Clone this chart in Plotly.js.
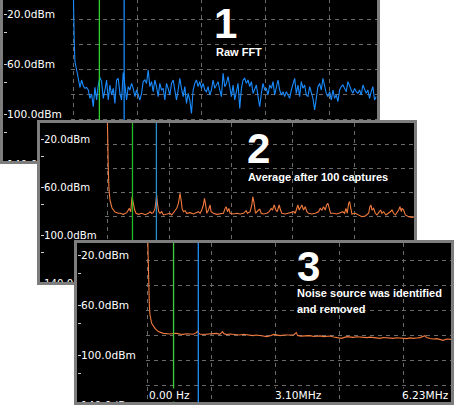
<!DOCTYPE html>
<html><head><meta charset="utf-8">
<script src="https://cdn.plot.ly/plotly-3.0.1.min.js"></script>
<style>
html,body{margin:0;padding:0;background:#ffffff;width:454px;height:405px;overflow:hidden;}
.panel{position:absolute;box-sizing:border-box;border:3px solid #7d7d7d;background:#000;overflow:hidden;}
.panel > div{position:absolute;left:0;top:0;}
</style></head><body>
<div id="p1" class="panel" style="z-index:1"><div id="g1"></div></div>
<div id="p2" class="panel" style="z-index:2"><div id="g2"></div></div>
<div id="p3" class="panel" style="z-index:3"><div id="g3"></div></div>
<script>
// ---------- axis labels ----------
const levelTicks = [-20, -60, -100, -140];
const levelTickText = ['20.0dBm', '60.0dBm', '100.0dBm', '140.0dBm'];
const minorLevelTicks = [-34.4, -74.4, -114.4, -154.4];
const freqLabelVals = [0, 3.10, 6.23];
const freqLabelText = ['0.00 Hz', '3.10MHz', '6.23MHz'];
const freqLabelAnchor = ['left', 'center', 'right'];

// ---------- marker frequencies (MHz) ----------
const markerGreen = 0.536;
const markerBlue = 1.045;

// ---------- panel 1: raw FFT (dBm) ----------
const p1HeadFreq = [0, 0.006, 0.014, 0.02, 0.034, 0.05];
const p1HeadLevel = [0, -19.5, -21, -43, -58, -63];
const p1BinStart = 0.0684, p1BinStep = 0.03421;
const p1BinLevel = [
 -64.8,-71.5,-78.7,-72.8,-77.6,-79.5,-78.7,-80.8,-87.5,-84.0,-94.1,-78.7,-88.8,-76.8,-70.7,-74.1,
 -87.5,-80.8,-72.8,-88.8,-76.8,-84.8,-79.5,-91.5,-72.8,-71.5,-83.5,-88.8,-66.9,-76.8,-88.8,-78.1,
 -80.8,-75.5,-79.5,-86.1,-80.8,-84.8,-88.8,-83.5,-74.1,-72.8,-75.5,-64.8,-78.1,-74.1,-82.1,-72.8,
 -78.1,-86.1,-75.5,-80.8,-79.5,-88.8,-75.5,-79.5,-84.8,-75.5,-72.8,-80.8,-88.8,-80.8,-71.5,-79.5,
 -86.1,-78.1,-91.5,-83.5,-88.8,-99.5,-80.8,-75.5,-72.8,-78.1,-74.1,-79.5,-75.5,-80.8,-82.1,-78.1,
 -84.8,-80.8,-72.8,-79.5,-76.8,-74.1,-80.8,-86.1,-67.5,-78.1,-75.5,
 -70.1,-78.1,-86.1,-76.8,-88.8,-82.1,-75.5,-95.5,-79.5,-72.8,-71.5,-75.5,-72.8,-78.1,-74.1,-83.5,
 -79.5,-76.8,-86.1,-94.1,-83.5,-75.5,-80.8,-79.5,-84.8,-76.8,-79.5,-74.1,-84.8,-78.1,-72.8,-80.8,
 -84.8,-82.1,-86.1,-82.1,-84.8,-87.5,-80.8,-75.5,-71.5,-83.5,-76.8,-86.1,-74.1,-79.5,-76.8,-84.8,
 -86.1,-78.1,-82.1,-87.5,-96.8,-84.8,-78.1,-75.5,-80.8,-71.5,-78.1,-83.5,-86.1,-82.1,-88.8,-80.8,
 -87.5,-84.8,-90.1,-80.8,-78.1,-76.8,-79.5,-82.1,-74.1,-78.1,-80.8,-83.5,-79.5,-82.1,-83.5,-80.8,
 -84.8,-76.8,-79.5,-83.5,-80.8,-87.5,-82.1,-78.1,-88.8,-86.1
];

// ---------- panel 2: average after 100 captures ----------
const p2Freq = [0,0.006,0.021,0.036,0.057,0.100,0.164,0.235,0.270,0.342,0.413,0.469,0.498,0.526,0.554,0.583,
 0.611,0.661,0.732,0.803,0.874,0.909,0.945,0.980,1.016,1.051,1.066,1.094,1.122,1.158,1.193,1.264,1.335,1.371,
 1.421,1.477,1.513,1.548,1.570,1.591,1.619,1.655,1.690,1.761,1.832,1.903,1.939,1.974,2.010,2.045,2.067,2.088,
 2.116,2.152,2.187,2.209,2.258,2.329,2.400,2.471,2.507,2.528,2.557,2.585,2.613,2.684,2.756,2.826,2.897,2.954,
 2.982,3.039,3.075,3.096,3.124,3.153,3.217,3.245,3.274,3.323,3.394,3.444,3.487,3.515,3.551,3.586,3.615,3.657,
 3.686,3.714,3.785,3.856,3.927,3.970,3.998,4.033,4.055,4.083,4.112,4.140,4.175,4.211,4.246,4.282,4.353,4.424,
 4.495,4.530,4.566,4.601,4.637,4.665,4.694,4.722,4.750,4.814,4.885,4.956,5.006,5.049,5.077,5.106,5.134,5.155,
 5.176,5.205,5.276,5.347,5.418,5.489,5.560,5.588,5.610,5.631,5.666,5.702,5.737,5.773,5.815,5.844,5.879,5.929,
 5.986,6.021,6.057,6.092,6.128,6.163,6.199,6.227,6.256,6.270,6.305,6.341,6.412,6.483,6.540];
const p2Level = [0,-21,-45,-62,-71,-77.5,-80.8,-81.9,-81.9,-82.8,-81.4,-77.8,-80.6,-68.1,-75.0,-79.2,
 -81.9,-82.8,-81.9,-83.1,-81.9,-80.6,-81.9,-81.4,-77.8,-66.7,-73.6,-80.6,-81.9,-80.6,-83.3,-82.8,-81.9,-83.3,
 -80.6,-77.8,-73.6,-65.3,-70.8,-77.8,-80.6,-79.7,-81.9,-81.4,-82.5,-81.4,-80.6,-81.9,-79.2,-75.0,-69.4,-73.6,
 -81.9,-79.2,-75.0,-80.6,-81.9,-82.8,-82.5,-81.9,-77.8,-76.4,-80.6,-77.8,-81.9,-82.5,-81.9,-82.5,-81.9,-79.7,
 -81.9,-80.6,-75.0,-68.1,-73.6,-81.9,-79.2,-78.6,-81.9,-82.5,-81.9,-80.6,-77.8,-79.2,-75.0,-79.2,-80.6,-75.0,
 -79.2,-81.9,-82.5,-81.9,-81.4,-80.6,-81.9,-77.8,-75.0,-79.2,-76.4,-75.0,-79.2,-76.4,-80.6,-81.9,-82.5,-81.9,
 -80.6,-77.8,-79.2,-76.4,-79.2,-75.0,-73.6,-79.2,-81.9,-81.9,-82.5,-81.4,-80.6,-81.9,-77.8,-81.9,-73.6,-72.2,
 -76.4,-82.5,-81.9,-83.3,-84.7,-84.2,-81.9,-76.4,-75.0,-79.2,-77.8,-81.9,-83.3,-81.4,-79.2,-81.9,-80.6,-83.3,
 -81.9,-80.6,-79.2,-81.9,-83.3,-81.4,-79.2,-76.4,-80.6,-77.8,-79.2,-83.3,-84.7,-85.3,-84.7];

// ---------- panel 3: noise source removed ----------
const p3Freq = [0,0.010,0.024,0.038,0.051,0.086,0.154,0.222,0.325,0.40,0.462,0.53,0.599,0.67,0.736,0.80,0.872,
 0.94,1.009,1.030,1.05,1.078,1.14,1.214,1.28,1.351,1.420,1.488,1.543,1.570,1.625,1.69,1.762,1.83,1.899,1.97,
 2.036,2.10,2.172,2.24,2.309,2.38,2.446,2.514,2.597,2.665,2.733,2.80,2.870,2.94,3.007,3.062,3.089,3.15,3.212,
 3.28,3.349,3.42,3.486,3.55,3.623,3.69,3.760,3.83,3.897,3.99,4.102,4.17,4.239,4.31,4.375,4.44,4.512,4.58,4.649,
 4.72,4.786,4.85,4.923,4.99,5.060,5.13,5.196,5.26,5.333,5.40,5.470,5.54,5.607,5.709,5.744,5.81,5.881,5.95,
 6.017,6.086,6.154,6.257];
const p3Level = [0,-21.3,-44,-60,-68,-74.7,-78.7,-81.3,-82.7,-83.0,-83.2,-82.8,-82.7,-83.3,-83.5,-83.0,-82.9,
 -83.4,-82.1,-80.8,-82.6,-83.2,-83.6,-83.5,-83.0,-83.2,-82.7,-83.5,-81.3,-82.9,-83.7,-83.2,-83.5,-84.0,-84.0,-83.4,
 -83.7,-84.1,-84.5,-84.0,-84.2,-84.8,-85.3,-84.8,-83.5,-84.3,-84.5,-84.0,-84.0,-84.6,-84.0,-82.1,-84.5,-84.9,-84.8,
 -84.3,-84.5,-85.2,-85.1,-84.7,-85.3,-85.0,-84.8,-85.6,-85.9,-86.7,-85.3,-85.8,-85.9,-85.4,-85.6,-86.2,-86.1,-85.7,-86.1,
 -86.5,-86.7,-86.0,-86.1,-86.6,-86.7,-86.2,-86.4,-86.9,-86.9,-86.3,-86.7,-86.4,-86.1,-84.5,-86.1,-86.8,-87.2,-86.9,
 -87.5,-88.3,-87.2,-87.5];

// ---------- panel geometry (page pixels) ----------
const panels = [
 {box:'p1', div:'g1', left:0, top:-4, w:380, h:168, plotLeft:73.3, pxPerMHz:48.65, labelY:14, labelGap:50,
  gridY0:-24.2, gridDx:1.316, tickFont:10.6,
  freq: p1HeadFreq.concat(p1BinLevel.map((v,i)=>+(p1BinStart+i*p1BinStep).toFixed(4))),
  level: p1HeadLevel.concat(p1BinLevel),
  traceColor:'#1a8cff', greenColor:'#2fd02f', blueColor:'#1a8cff',
  num:'1', numX:225, numY:23.5, captions:['Raw FFT'], capX:214, capY:52, freqLabels:false},
 {box:'p2', div:'g2', left:37, top:120, w:380, h:165, plotLeft:107.3, pxPerMHz:47.0, labelY:139, labelGap:48,
  gridY0:-24.4, gridDx:1.316, tickFont:10.2,
  freq:p2Freq, level:p2Level,
  traceColor:'#f27a3c', greenColor:'#22bb22', blueColor:'#2a8ec8',
  num:'2', numX:258.5, numY:149, captions:['Average after 100 captures'], capX:246, capY:177, freqLabels:false},
 {box:'p3', div:'g3', left:74, top:240, w:380, h:165, plotLeft:147.5, pxPerMHz:48.6, labelY:255, labelGap:50,
  gridY0:-24, gridDx:1.316, tickFont:10.6,
  freq:p3Freq, level:p3Level,
  traceColor:'#f27a3c', greenColor:'#3fcf3f', blueColor:'#1e90ff',
  num:'3', numX:308, numY:266, captions:['Noise source was identified','and removed'], capX:295, capY:293, freqLabels:true}
];

const B = 3;
const capFont = 'Liberation Sans Narrow, Arial Narrow, Liberation Sans, Arial, sans-serif';
const tickFamily = 'DejaVu Sans, Verdana, sans-serif';

panels.forEach(c => {
  const box = document.getElementById(c.box);
  box.style.left = c.left + 'px'; box.style.top = c.top + 'px';
  box.style.width = c.w + 'px'; box.style.height = c.h + 'px';
  const inL = c.left + B, inT = c.top + B;
  const gW = c.w - 2*B, gH = c.h - 2*B + 24;
  const xMin = -2 / c.pxPerMHz;
  const xMax = (inL + gW - c.plotLeft) / c.pxPerMHz;
  const domL = (c.plotLeft - 2 - inL) / gW;
  const dbPerPx = 40 / c.labelGap;
  const yTop = -20 + (c.labelY - inT) * dbPerPx;
  const yBot = yTop - gH * dbPerPx;
  const px = x => (x - inL) / gW;
  const py = y => 1 - (y - inT) / gH;

  const traces = [
    {x:[markerGreen, markerGreen], y:[yTop+10, yBot-10], yaxis:'y2', mode:'lines', line:{color:c.greenColor, width:1.3}, hoverinfo:'skip'},
    {x:[markerBlue, markerBlue], y:[yTop+10, yBot-10], yaxis:'y2', mode:'lines', line:{color:c.blueColor, width:1.3}, hoverinfo:'skip'},
    {x:c.freq, y:c.level, mode:'lines', line:{color:c.traceColor, width:1.1}, hoverinfo:'skip'}
  ];

  const ann = [];
  ann.push({text:'<b>'+c.num+'</b>', xref:'paper', yref:'paper', x:px(c.numX), y:py(c.numY),
    xanchor:'center', yanchor:'middle', showarrow:false, font:{family:capFont, size:42, color:'#ffffff'}});
  c.captions.forEach((t,i) => ann.push({text:'<b>'+t+'</b>', xref:'paper', yref:'paper', x:px(c.capX), y:py(c.capY + i*16),
    xanchor:'left', yanchor:'middle', showarrow:false, font:{family:capFont, size:11, color:'#ffffff'}}));
  if (c.freqLabels) {
    freqLabelVals.forEach((v,i) => ann.push({text:freqLabelText[i], xref:'x', yref:'paper', x:v, y:py(394.5),
      xanchor:freqLabelAnchor[i], yanchor:'middle', showarrow:false, bgcolor:'#000000', borderpad:0,
      font:{family:tickFamily, size:c.tickFont, color:'#ffffff'}}));
  }

  const layout = {
    width:gW, height:gH, margin:{l:0, r:0, t:0, b:0},
    paper_bgcolor:'#000000', plot_bgcolor:'#000000', showlegend:false,
    xaxis:{domain:[domL, 1], range:[xMin, xMax], tick0:0, dtick:c.gridDx, showticklabels:false, ticks:'',
      showgrid:true, gridcolor:'#6a6a6a', griddash:'4px,4px', gridwidth:1, zeroline:false, showline:false, fixedrange:true},
    yaxis:{domain:[0,1], range:[yBot, yTop], tick0:c.gridY0, dtick:20, showticklabels:false, ticks:'',
      showgrid:true, gridcolor:'#6a6a6a', griddash:'4px,4px', gridwidth:1, zeroline:false, showline:false, fixedrange:true},
    yaxis2:{overlaying:'y', anchor:'free', position:0, side:'right', range:[yBot, yTop],
      tickmode:'array', tickvals:levelTicks.concat(minorLevelTicks),
      ticktext:levelTickText.concat(minorLevelTicks.map(()=> '')),
      ticks:'outside', ticklen:3, tickwidth:1, tickcolor:'#d0d0d0', showgrid:false, zeroline:false, showline:false,
      ticklabelstandoff:-2,
      tickfont:{family:tickFamily, size:c.tickFont, color:'#ffffff'}, automargin:false, fixedrange:true},
    annotations:ann
  };
  Plotly.newPlot(c.div, traces, layout, {staticPlot:true, displayModeBar:false});
});
</script>
</body></html>
